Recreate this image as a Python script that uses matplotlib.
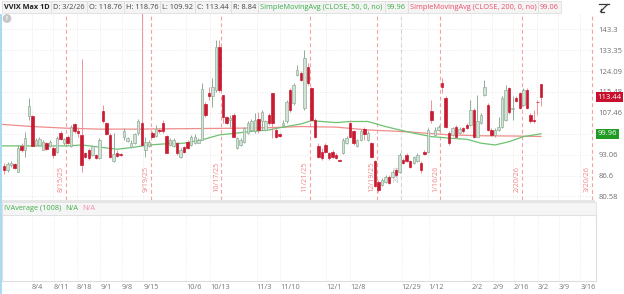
import matplotlib
matplotlib.use('Agg')
import matplotlib.pyplot as plt
import matplotlib.transforms as mtrans
from matplotlib.patches import Rectangle
from matplotlib.ticker import NullLocator
import pandas as pd

plt.rcParams['font.family'] = ['Open Sans', 'DejaVu Sans']

# trading calendar (bars are indexed by trading day)
holidays = ['2025-09-01', '2025-11-27', '2025-12-25', '2026-01-01', '2026-01-19', '2026-02-16']
days = pd.bdate_range('2025-07-23', '2026-03-31')
days = days[~days.isin(pd.to_datetime(holidays))]

# daily OHLC, 7/23/25 .. 3/2/26
opens = [89.5, 88.3, 89.8, 90.0, 87.8, 95.9, 94.4, 106.3, 106.3, 96.2,
         96.2, 94.6, 97.0, 95.7, 95.1, 94.0, 100.4, 96.8, 99.0, 95.7,
         103.3, 100.8, 99.6, 93.5, 94.6, 93.0, 93.0, 91.9, 108.3, 103.7,
         99.6, 90.9, 93.7, 93.3, 99.0, 97.6, 95.5, 96.8, 100.2, 103.7,
         94.4, 95.7, 100.2, 99.3, 101.3, 103.7, 99.3, 96.2, 95.7, 96.8,
         92.4, 95.5, 97.3, 96.2, 96.8, 97.0, 97.9, 110.8, 115.0, 113.7,
         116.3, 135.0, 114.3, 105.8, 104.9, 106.7, 95.1, 96.2, 97.3, 100.2,
         101.3, 100.8, 105.1, 104.6, 101.3, 106.7, 115.0, 101.3, 99.9, 103.1,
         104.3, 116.3, 111.1, 122.5, 123.2, 109.2, 126.0, 117.0, 104.9, 95.7,
         94.0, 96.2, 93.5, 94.0, 93.0, 91.4, 93.5, 96.8, 103.7, 100.8,
         95.7, 97.9, 101.6, 97.9, 96.8, 90.9, 84.8, 83.9, 84.8, 86.3,
         86.3, 88.3, 87.8, 91.4, 93.0, 90.9, 90.4, 90.9, 90.4, 94.0,
         94.0, 108.2, 99.6, 101.3, 119.0, 113.0, 100.2, 99.6, 102.5, 100.2,
         101.9, 103.1, 103.1, 108.6, 99.0, 103.7, 114.3, 110.4, 101.3, 99.6,
         101.3, 102.5, 104.9, 117.0, 109.0, 113.0, 115.0, 110.4, 116.3, 106.7,
         104.9, 111.7, 118.76]
highs = [90.4, 90.6, 90.9, 90.4, 96.2, 96.8, 100.7, 113.0, 106.7, 98.5,
         98.8, 97.9, 97.3, 97.9, 95.7, 99.3, 101.1, 98.6, 99.6, 103.1,
         103.9, 102.5, 129.2, 94.0, 95.1, 96.2, 93.3, 98.5, 110.4, 104.1,
         100.2, 100.2, 94.4, 93.7, 101.9, 98.8, 97.7, 100.4, 105.1, 152.0,
         99.0, 97.9, 100.8, 103.1, 101.9, 104.9, 99.6, 98.5, 98.5, 97.3,
         95.1, 95.9, 97.9, 99.6, 99.9, 98.5, 119.0, 111.7, 117.6, 121.1,
         138.1, 138.1, 114.3, 106.3, 106.7, 107.3, 99.0, 98.5, 102.5, 104.3,
         105.1, 107.3, 107.9, 108.6, 104.9, 107.3, 115.0, 101.9, 100.4, 104.9,
         112.4, 117.0, 119.0, 126.7, 123.9, 133.5, 127.5, 117.6, 105.5, 96.8,
         95.1, 96.8, 94.0, 94.6, 93.5, 91.6, 98.5, 99.3, 104.9, 101.3,
         98.1, 101.6, 102.5, 100.8, 97.3, 91.4, 85.3, 85.8, 86.8, 86.8,
         88.3, 88.8, 93.5, 91.9, 93.5, 91.4, 92.7, 93.5, 90.9, 94.4,
         101.9, 112.4, 102.3, 103.1, 121.1, 113.7, 100.8, 102.5, 103.1, 102.3,
         102.5, 103.7, 112.4, 109.2, 114.3, 107.3, 120.4, 111.1, 101.9, 101.9,
         106.1, 113.7, 118.3, 117.6, 113.7, 113.7, 115.6, 117.0, 117.0, 107.3,
         108.6, 112.4, 118.76]
lows = [87.1, 87.8, 89.3, 88.5, 87.6, 94.0, 92.4, 104.9, 95.7, 95.9,
        95.9, 94.4, 94.6, 95.5, 91.9, 93.7, 97.7, 96.2, 96.6, 95.5,
        100.4, 99.0, 87.8, 91.9, 91.4, 92.7, 91.6, 91.6, 103.7, 99.6,
        92.1, 90.6, 92.4, 92.7, 97.9, 97.2, 95.1, 96.6, 99.6, 95.9,
        92.2, 95.5, 98.8, 99.0, 100.4, 100.2, 93.5, 95.9, 95.5, 93.0,
        92.1, 93.7, 94.8, 95.9, 96.6, 96.8, 97.7, 106.1, 112.4, 109.8,
        115.6, 115.6, 103.7, 103.4, 102.5, 98.8, 94.8, 95.9, 97.0, 99.9,
        101.0, 100.2, 100.2, 101.3, 101.0, 103.1, 98.5, 98.7, 98.8, 102.5,
        103.9, 107.9, 110.4, 121.8, 119.7, 108.6, 118.3, 104.3, 98.5, 91.9,
        91.4, 93.5, 91.4, 91.9, 91.6, 90.9, 93.2, 96.6, 98.5, 96.2,
        95.5, 97.6, 97.9, 97.6, 92.1, 83.1, 81.9, 83.4, 84.5, 84.0,
        85.8, 86.3, 87.5, 90.0, 90.6, 88.8, 90.0, 90.6, 87.3, 93.0,
        93.7, 103.7, 99.3, 101.0, 115.0, 101.9, 96.2, 99.3, 98.5, 99.8,
        100.4, 101.6, 102.7, 98.5, 98.8, 103.3, 113.7, 101.0, 99.3, 99.0,
        101.0, 102.1, 104.5, 107.1, 104.9, 111.7, 108.8, 110.0, 108.8, 103.9,
        103.7, 106.7, 109.92]
closes = [88.3, 90.0, 90.4, 88.8, 95.1, 94.4, 98.7, 110.0, 95.9, 97.9,
          98.1, 97.3, 94.8, 97.3, 93.0, 98.5, 98.1, 98.1, 96.8, 102.5,
          100.8, 100.2, 89.8, 92.2, 91.9, 95.7, 91.9, 97.9, 104.3, 99.9,
          92.4, 93.3, 92.7, 93.0, 100.8, 98.5, 97.0, 99.9, 104.6, 96.2,
          97.3, 97.3, 99.0, 101.6, 100.8, 100.8, 93.7, 97.9, 97.9, 93.5,
          94.6, 94.0, 95.1, 98.8, 99.0, 97.7, 116.6, 106.7, 113.7, 117.6,
          135.0, 116.3, 106.1, 103.9, 105.5, 99.0, 98.5, 97.9, 101.9, 103.7,
          104.3, 104.9, 101.3, 107.6, 104.3, 103.7, 103.7, 99.0, 99.3, 103.7,
          111.7, 108.6, 118.3, 124.6, 120.4, 129.7, 119.0, 104.9, 99.0, 92.4,
          91.9, 94.0, 91.9, 92.4, 91.9, 91.1, 97.9, 98.5, 99.0, 96.8,
          97.7, 100.8, 99.9, 100.2, 92.4, 83.4, 82.4, 85.3, 86.3, 84.3,
          87.8, 86.8, 93.0, 90.4, 90.9, 89.3, 92.2, 93.0, 88.3, 93.3,
          101.3, 104.9, 101.3, 102.5, 117.6, 102.5, 96.8, 101.9, 99.0, 101.6,
          100.8, 101.9, 108.6, 99.0, 104.3, 106.7, 117.6, 101.3, 99.6, 101.3,
          102.5, 113.0, 116.3, 107.6, 109.2, 112.1, 109.2, 116.3, 109.2, 104.3,
          104.3, 111.4, 113.44]

# moving averages (bar index, value)
sma_bars = [-1, 8, 18, 22, 27, 32, 37, 41, 46, 51, 56, 61, 65, 70, 75, 79,
            84, 87, 94, 98, 103, 108, 112, 116, 121, 126, 131, 135, 139, 143,
            147, 152]
sma50 = [95.9, 95.9, 95.9, 96.2, 95.5, 94.8, 95.5, 96.2, 96.6, 96.8, 97.9,
         99.6, 100.1, 100.8, 101.3, 102.3, 103.4, 104.6, 103.9, 104.3, 104.3,
         102.5, 101.3, 100.2, 99.0, 98.5, 98.1, 96.8, 96.2, 97.3, 99.0, 99.96]
sma200_bars = [-1, 8, 18, 27, 37, 46, 56, 65, 75, 84, 94, 103, 112, 116, 126,
               135, 145, 152]
sma200 = [103.3, 102.5, 101.9, 101.6, 101.6, 101.7, 101.8, 101.9, 102.1,
          102.5, 102.3, 101.3, 100.8, 100.5, 99.6, 99.3, 99.2, 99.06]

# the 100 level sits under the 99.96 box, so it carries no label
price_ticks = [80.58, 86.6, 93.06, 100, 107.46, 115.48, 124.09, 133.35, 143.3]
price_labels = ['80.58', '86.6', '93.06', '', '107.46', '115.48', '124.09', '133.35', '143.3']

expiries = ['2025-08-15', '2025-09-19', '2025-10-17', '2025-11-21',
            '2025-12-19', '2026-01-16', '2026-02-20', '2026-03-20']
expiry_labels = ['8/15/25', '9/19/25', '10/17/25', '11/21/25',
                 '12/19/25', '1/16/26', '2/20/26', '3/20/26']

date_labels = ['8/4', '8/11', '8/18', '9/1', '9/8', '9/15', '10/6', '10/13',
               '11/3', '11/10', '12/1', '12/8', '12/29', '1/12', '2/2', '2/9',
               '2/16', '3/2', '3/9', '3/16']
date_pos = [7.8, 14.0, 20.6, 27.2, 33.3, 39.4, 51.5, 58.3, 71.5, 78.1,
            91.1, 97.9, 112.5, 120.1, 132.2, 138.2, 144.2, 150.9, 156.9, 163.0]

W, H = 624, 294
fig = plt.figure(figsize=(W / 100, H / 100), dpi=100)

def fx(px):
    return px / W

def fy(py):
    return 1 - py / H

UP_FACE, UP_EDGE = '#d3e2d6', '#8fae96'
DN_FACE, DN_WICK = '#c81b32', '#f0919c'
GREEN, PINK = '#3fae49', '#ee4d6a'
XLIM = (-0.57, 167.3)

# main price panel
ax = fig.add_axes([fx(2), fy(200), fx(595) - fx(2), fy(14) - fy(200)])
ax.set_yscale('log')
ax.set_ylim(79.6, 151.0)
ax.set_xlim(*XLIM)

n = len(closes)
for i in range(n):
    o, h, l, c = opens[i], highs[i], lows[i], closes[i]
    up = c >= o
    ax.vlines(i, l, h, color=UP_EDGE if up else DN_WICK, lw=0.7, zorder=3)
    bot, top = min(o, c), max(o, c)
    if top / bot < 1.002:
        top = bot * 1.002
    ax.bar(i, top - bot, bottom=bot, width=0.7,
           color=UP_FACE if up else DN_FACE,
           edgecolor=UP_EDGE if up else DN_FACE, lw=0.5, zorder=4)

ax.plot(sma200_bars, sma200, color='#f08c8c', lw=0.9, zorder=2)
ax.plot(sma_bars, sma50, color='#6cc270', lw=0.9, zorder=2)

# expiration lines and year marker
blend = mtrans.blended_transform_factory(ax.transData, ax.transAxes)
for d, lab in zip(expiries, expiry_labels):
    xi = days.get_loc(pd.Timestamp(d)) + 0.5
    ax.axvline(xi, color='#f4a3a3', lw=0.8, dashes=(3.5, 2.5), zorder=1)
    ax.text(xi - 0.3, 0.043, lab, transform=blend, rotation=90, ha='right',
            va='bottom', fontsize=5.2, color='#f08585')
xy = days.get_loc(pd.Timestamp('2026-01-02')) - 0.5
ax.axvline(xy, color='#d6d6d6', lw=0.8, dashes=(3.5, 2.5), zorder=1)
ax.text(xy - 0.3, 0.097, '2026', transform=blend, rotation=90, ha='right',
        va='bottom', fontsize=5.2, color='#bdbdbd')

ax.yaxis.tick_right()
ax.set_yticks(price_ticks, price_labels)
ax.yaxis.set_minor_locator(NullLocator())
ax.set_xticks(date_pos)
ax.tick_params(axis='y', length=0, pad=2.5, labelsize=5.5, labelcolor='#6e6e6e')
ax.tick_params(axis='x', length=0, labelbottom=False)
ax.grid(True, ls=(0, (1, 2)), color='#e2e2e2', lw=0.6)
ax.set_axisbelow(True)
for s in ax.spines.values():
    s.set_visible(False)

# current value boxes on the price scale
yblend = mtrans.blended_transform_factory(ax.transAxes, ax.transData)
ax.text(1.004, closes[-1], f'{closes[-1]:.2f}', transform=yblend, ha='left',
        va='center', fontsize=5.5, color='white', zorder=10,
        bbox=dict(boxstyle='square,pad=0.22', fc='#c8102e', ec='none'))
ax.text(1.004, sma50[-1], f'{sma50[-1]:.2f}', transform=yblend, ha='left',
        va='center', fontsize=5.5, color='white', zorder=10,
        bbox=dict(boxstyle='square,pad=0.22', fc='#1f9a22', ec='none'))

# lower study panel
ax2 = fig.add_axes([fx(2), fy(281), fx(595.5) - fx(2), fy(215) - fy(281)])
ax2.set_xlim(*XLIM)
ax2.set_ylim(0, 1)
ax2.set_yticks([])
ax2.set_xticks(date_pos, date_labels)
for t in ax2.get_xticklabels():
    t.set_ha('left')
ax2.tick_params(axis='x', length=0, pad=2.5, labelsize=5.3, labelcolor='#777777')
ax2.grid(True, axis='x', ls=(0, (1, 2)), color='#e6e6e6', lw=0.6)
for s in ax2.spines.values():
    s.set_color('#dddddd')
    s.set_linewidth(0.8)

# panel separators and left edge
fig.add_artist(Rectangle((fx(2), fy(202)), fx(593), fy(200) - fy(202),
                         transform=fig.transFigure, fc='#e6e6e6', ec='none'))
fig.add_artist(Rectangle((0, 0), fx(1.6), fy(14), transform=fig.transFigure,
                         fc='#a9dcf2', ec='none'))

renderer = fig.canvas.get_renderer()

def header(items, x0, ytop, ybot, fill, edge):
    x = x0
    for s, color, weight in items:
        t = fig.text(fx(x + 2), fy((ytop + ybot) / 2), s, fontsize=5.3,
                     color=color, fontweight=weight, ha='left', va='center')
        w = t.get_window_extent(renderer).width
        fig.add_artist(Rectangle((fx(x), fy(ybot)), fx(w + 4), fy(ytop) - fy(ybot),
                                 transform=fig.transFigure, fc=fill, ec=edge,
                                 lw=0.6, zorder=-1))
        x += w + 4

fig.add_artist(Rectangle((fx(2), fy(215)), fx(593.5), fy(202) - fy(215),
                         transform=fig.transFigure, fc='#f5f5f5', ec='#e0e0e0',
                         lw=0.6))
header([('VVIX Max 1D', '#222222', 'bold'), ('D: 3/2/26', '#444444', 'normal'),
        (f'O: {opens[-1]:.2f}', '#444444', 'normal'),
        (f'H: {highs[-1]:.2f}', '#444444', 'normal'),
        (f'L: {lows[-1]:.2f}', '#444444', 'normal'),
        (f'C: {closes[-1]:.2f}', '#444444', 'normal'),
        (f'R: {highs[-1] - lows[-1]:.2f}', '#444444', 'normal'),
        ('SimpleMovingAvg (CLOSE, 50, 0, no)', GREEN, 'normal'),
        (f'{sma50[-1]:.2f}', GREEN, 'normal'),
        ('SimpleMovingAvg (CLOSE, 200, 0, no)', PINK, 'normal'),
        (f'{sma200[-1]:.2f}', PINK, 'normal')], 1.5, 1.5, 13, '#f4f4f4', '#dedede')
header([('IVAverage (1008)', GREEN, 'normal'), ('N/A', GREEN, 'normal'),
        ('N/A', '#f48fb1', 'normal')], 2, 202.5, 215, '#f5f5f5', '#e0e0e0')

# info and zoom icons
fig.text(fx(7), fy(18.5), '!', ha='center', va='center', fontsize=4.5,
         color='white', fontweight='bold',
         bbox=dict(boxstyle='circle,pad=0.3', fc='#c6c6c6', ec='none'))
icon = [((599, 608.5), (3.5, 3.5)), ((607.5, 600.5), (4.5, 11.5)),
        ((600.5, 600.5), (11.5, 8.5)), ((600.5, 603.5), (11.5, 11.5))]
for (x1, x2), (y1, y2) in icon:
    fig.add_artist(plt.Line2D([fx(x1), fx(x2)], [fy(y1), fy(y2)],
                              transform=fig.transFigure, color='#3a3a3a', lw=0.9))

fig.savefig('out.png', dpi=100)
